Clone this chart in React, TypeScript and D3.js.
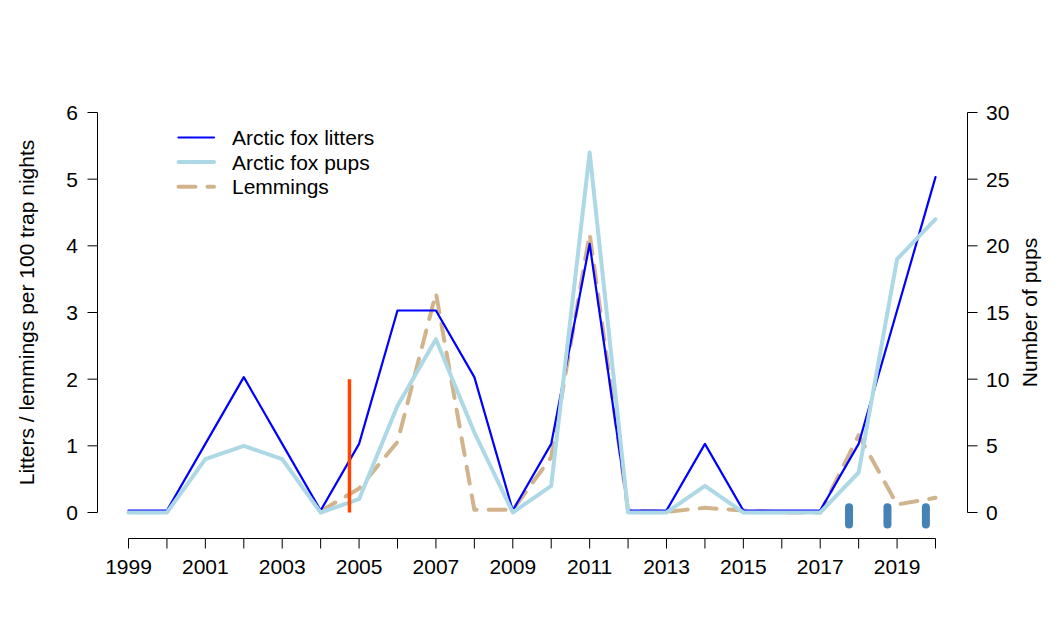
import React from "react";
import * as d3 from "d3";

const years = [1999, 2000, 2001, 2002, 2003, 2004, 2005, 2006, 2007, 2008, 2009, 2010, 2011, 2012, 2013, 2014, 2015, 2016, 2017, 2018, 2019, 2020];
const litters = [0.03, 0.03, 1.03, 2.03, 1.03, 0.03, 1.03, 3.03, 3.03, 2.03, 0.03, 1.03, 4.03, 0.03, 0.03, 1.03, 0.03, 0.03, 0.03, 1.03, 3.03, 5.03];
const pups = [0, 0, 4, 5, 4, 0, 1, 8, 13, 6, 0, 2, 27, 0, 0, 2, 0, 0, 0, 3, 19, 22];
const lemmings: (number | null)[] = [null, null, null, null, null, 0.02, 0.36, 1.06, 3.29, 0.04, 0.04, 0.83, 4.18, 0.03, 0.01, 0.07, 0.03, 0, 0, 1.16, 0.12, 0.22];

const leftTicks = [0, 1, 2, 3, 4, 5, 6];
const rightTicks = [0, 5, 10, 15, 20, 25, 30];
const xLabelYears = [1999, 2001, 2003, 2005, 2007, 2009, 2011, 2013, 2015, 2017, 2019];

const redEvent = { year: 2004.75, from: 0, to: 2 };
const markerYears = [2017.75, 2018.75, 2019.75];
const markerRange = [-0.18, 0.08];

const legendItems = [
  { label: "Arctic fox litters", color: "#0000FF", width: 2.2, dash: "" },
  { label: "Arctic fox pups", color: "#ADD8E6", width: 4, dash: "" },
  { label: "Lemmings", color: "#D2B48C", width: 4, dash: "17,12" },
];

const FONT = "'Liberation Sans', Arial, sans-serif";
const FS = 21;

export default function App() {
  const x = d3.scaleLinear().domain([1999, 2020]).range([128.5, 935.5]);
  const yL = d3.scaleLinear().domain([0, 6]).range([512.5, 112.5]);
  const yR = d3.scaleLinear().domain([0, 30]).range([512.5, 112.5]);

  const lineL = d3
    .line<number | null>()
    .defined((d) => d != null)
    .x((_, i) => x(years[i]))
    .y((d) => yL(d as number));
  const lineR = d3
    .line<number>()
    .x((_, i) => x(years[i]))
    .y((d) => yR(d));

  const axisX = 538.5;
  const leftX = 97.5;
  const rightX = 967.5;

  return (
    <svg
      width={1064}
      height={625}
      style={{ position: "absolute", left: 0, top: 0, background: "#fff" }}
      fontFamily={FONT}
    >
      <rect width={1064} height={625} fill="#fff" />
      {/* series */}
      <path d={lineL(lemmings) || ""} fill="none" stroke="#D2B48C" strokeWidth={4} strokeDasharray="17,12" strokeLinecap="round" strokeLinejoin="round" />
      <path d={lineL(litters) || ""} fill="none" stroke="#0000FF" strokeWidth={2.2} strokeLinejoin="round" strokeLinecap="round" />
      <path d={lineR(pups) || ""} fill="none" stroke="#ADD8E6" strokeWidth={4} strokeLinejoin="round" strokeLinecap="round" />
      {/* event line */}
      <line x1={x(redEvent.year)} x2={x(redEvent.year)} y1={yL(redEvent.from)} y2={yL(redEvent.to)} stroke="#FF4500" strokeWidth={3.5} />
      {markerYears.map((yr) => (
        <line key={yr} x1={x(yr)} x2={x(yr)} y1={yL(markerRange[0])} y2={yL(markerRange[1])} stroke="#4682B4" strokeWidth={8} strokeLinecap="round" />
      ))}

      {/* left axis */}
      <line x1={leftX} x2={leftX} y1={yL(0)} y2={yL(6)} stroke="#000" strokeWidth={1} />
      {leftTicks.map((t) => (
        <g key={t}>
          <line x1={leftX} x2={leftX - 10} y1={yL(t)} y2={yL(t)} stroke="#000" />
          <text x={78} y={yL(t) + 7.5} textAnchor="end" fontSize={FS}>{t}</text>
        </g>
      ))}
      {/* right axis */}
      <line x1={rightX} x2={rightX} y1={yR(0)} y2={yR(30)} stroke="#000" strokeWidth={1} />
      {rightTicks.map((t) => (
        <g key={t}>
          <line x1={rightX} x2={rightX + 10} y1={yR(t)} y2={yR(t)} stroke="#000" />
          <text x={986} y={yR(t) + 7.5} textAnchor="start" fontSize={FS}>{t}</text>
        </g>
      ))}
      {/* x axis */}
      <line x1={x(1999)} x2={x(2020)} y1={axisX} y2={axisX} stroke="#000" />
      {years.map((yr) => (
        <line key={yr} x1={x(yr)} x2={x(yr)} y1={axisX} y2={axisX + 10} stroke="#000" />
      ))}
      {xLabelYears.map((yr) => (
        <text key={yr} x={x(yr)} y={574} textAnchor="middle" fontSize={FS}>{yr}</text>
      ))}

      {/* axis titles */}
      <text transform={`translate(34,${yL(3)}) rotate(-90)`} textAnchor="middle" fontSize={FS}>
        Litters / lemmings per 100 trap nights
      </text>
      <text transform={`translate(1037,${yR(15)}) rotate(-90)`} textAnchor="middle" fontSize={FS}>
        Number of pups
      </text>

      {/* legend */}
      {legendItems.map((it, i) => {
        const cy = 137.5 + i * 24.6;
        return (
          <g key={it.label}>
            <line x1={178.5} x2={214} y1={cy} y2={cy} stroke={it.color} strokeWidth={it.width} strokeDasharray={it.dash || undefined} strokeLinecap="round" />
            <text x={232} y={cy + 7.5} fontSize={FS}>{it.label}</text>
          </g>
        );
      })}
    </svg>
  );
}
